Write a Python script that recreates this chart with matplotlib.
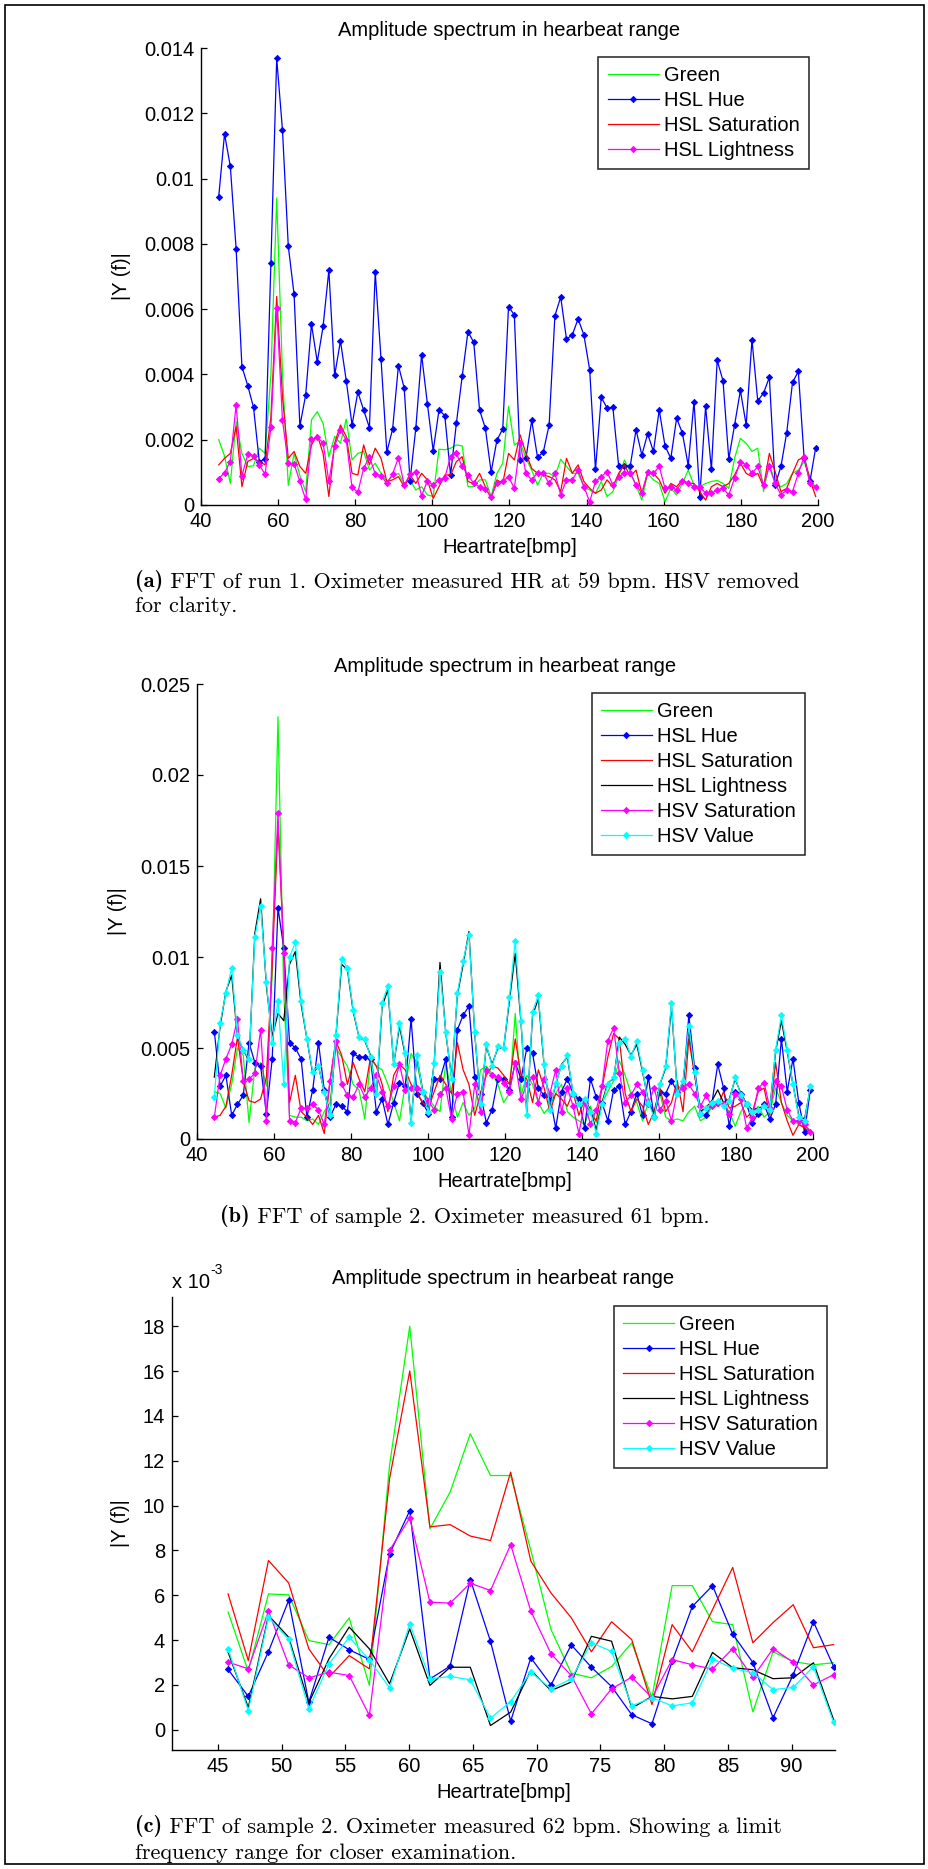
import matplotlib
matplotlib.use('Agg')
import matplotlib.pyplot as plt
import numpy as np
from matplotlib.patches import Rectangle

plt.rcParams['font.family'] = ['Liberation Sans', 'DejaVu Sans']

# FFT bins in bpm (frequency resolution of each recording)
bpm_run1 = 44.6 + 1.503 * np.arange(104)
bpm_s2 = 44.5 + 1.503 * np.arange(104)
bpm_zoom = 45.8 + 1.583 * np.arange(31)

labels_a = ['Green', 'HSL Hue', 'HSL Saturation', 'HSL Lightness']
labels_bc = ['Green', 'HSL Hue', 'HSL Saturation', 'HSL Lightness',
             'HSV Saturation', 'HSV Value']

# ---- (a) run 1, values in 1e-3 ----
green_a = [2.00, 1.50, 0.66, 2.56, 1.58, 1.18, 1.20, 1.74, 1.58, 4.00,
           9.40, 4.00, 0.60, 1.58, 0.90, 0.41, 2.61, 2.86, 2.50, 1.48,
           2.10, 1.89, 2.63, 1.38, 1.58, 1.64, 1.07, 1.28, 0.97, 0.72,
           0.87, 0.97, 0.66, 0.77, 0.46, 0.56, 0.31, 0.26, 1.71, 1.69,
           1.74, 1.84, 1.81, 0.56, 0.56, 0.77, 0.77, 0.26, 0.97, 1.28,
           3.02, 1.84, 1.94, 1.43, 1.07, 0.61, 0.97, 0.97, 0.87, 1.40,
           1.18, 0.97, 0.97, 0.56, 0.46, 0.36, 0.72, 0.26, 0.41, 0.87,
           1.38, 1.02, 0.61, 0.15, 0.97, 0.77, 0.66, 0.10, 0.51, 0.31,
           0.66, 1.07, 0.61, 0.56, 0.66, 0.72, 0.75, 0.66, 0.51, 1.43,
           2.04, 1.89, 1.64, 1.74, 0.41, 1.28, 0.66, 0.56, 0.66, 0.97,
           1.07, 1.33, 0.87, 0.51]
hue_a = [9.45, 11.37, 10.37, 7.85, 4.24, 3.66, 2.99, 1.33, 1.41, 7.41,
         13.68, 11.48, 7.93, 6.45, 2.42, 3.37, 5.54, 4.38, 5.47, 7.19,
         3.97, 5.03, 3.81, 2.45, 3.46, 2.91, 2.37, 7.14, 4.47, 1.62,
         2.33, 4.27, 3.58, 0.74, 2.35, 4.60, 3.10, 1.66, 2.91, 2.74,
         0.92, 2.50, 3.94, 5.31, 4.98, 2.91, 2.35, 1.01, 1.99, 2.33,
         6.08, 5.82, 1.38, 1.43, 2.59, 1.46, 1.62, 2.45, 5.80, 6.37,
         5.08, 5.21, 5.70, 5.21, 4.14, 1.09, 3.30, 2.97, 2.99, 1.20,
         1.20, 1.20, 2.30, 1.53, 2.18, 1.64, 2.91, 1.81, 1.43, 2.66,
         2.20, 1.21, 3.17, 0.26, 3.02, 1.09, 4.43, 3.81, 1.41, 2.45,
         3.51, 2.45, 5.06, 3.19, 3.43, 3.91, 0.61, 1.18, 2.22, 3.76,
         4.09, 1.43, 0.72, 1.76]
sat_a = [1.23, 1.43, 1.58, 2.40, 0.56, 1.33, 1.43, 1.33, 1.23, 2.70,
         6.39, 3.30, 1.43, 1.64, 1.18, 0.97, 1.84, 2.15, 1.58, 0.26,
         1.89, 2.45, 2.10, 0.97, 0.92, 1.84, 1.23, 1.74, 1.43, 0.72,
         0.77, 0.87, 0.56, 0.92, 0.66, 0.97, 0.77, 0.20, 0.56, 0.92,
         0.92, 1.33, 1.48, 0.72, 0.66, 0.97, 0.56, 0.20, 0.77, 0.66,
         1.58, 1.38, 2.15, 1.58, 1.12, 0.97, 0.92, 0.87, 0.77, 0.41,
         1.43, 0.97, 1.23, 0.72, 0.51, 0.36, 0.46, 0.77, 0.56, 0.97,
         1.23, 0.87, 1.07, 0.36, 0.97, 0.97, 0.77, 0.36, 0.66, 0.56,
         0.77, 0.66, 0.66, 0.41, 0.15, 0.56, 0.66, 0.56, 0.66, 0.92,
         1.28, 0.97, 0.87, 0.97, 0.56, 1.58, 1.02, 0.41, 0.51, 0.97,
         1.38, 1.48, 0.77, 0.26]
light_a = [0.81, 0.99, 1.33, 3.07, 0.89, 1.55, 1.51, 1.23, 0.94, 2.38,
           6.05, 2.59, 1.28, 1.26, 0.72, 0.17, 2.01, 2.07, 1.91, 0.72,
           1.81, 2.30, 1.99, 0.54, 0.39, 1.12, 1.48, 0.95, 0.90, 0.66,
           0.95, 1.45, 0.61, 0.94, 1.01, 0.28, 0.74, 0.61, 0.77, 0.84,
           1.48, 1.58, 1.18, 0.92, 0.66, 0.56, 0.48, 0.26, 0.66, 0.72,
           0.87, 0.51, 1.90, 0.97, 0.77, 0.99, 0.97, 0.66, 0.97, 0.31,
           0.77, 0.77, 1.07, 0.56, 0.10, 0.72, 0.87, 1.02, 0.61, 0.87,
           0.97, 0.97, 0.61, 0.36, 1.00, 0.97, 1.18, 0.51, 0.56, 0.46,
           0.72, 0.66, 0.56, 0.56, 0.36, 0.36, 0.46, 0.51, 0.31, 0.82,
           1.33, 1.23, 0.97, 1.18, 0.61, 1.18, 0.66, 0.31, 0.46, 0.41,
           0.97, 1.48, 0.66, 0.54]

# ---- (b) sample 2, values in 1e-3 ----
green_b = [2.6, 2.5, 1.7, 3.0, 5.0, 4.6, 0.9, 3.9, 4.2, 2.9,
           9.0, 23.2, 8.0, 1.3, 1.2, 1.2, 1.0, 1.1, 0.8, 1.5,
           2.0, 5.0, 4.5, 4.0, 3.0, 2.7, 1.1, 4.4, 4.0, 3.8,
           3.0, 2.0, 1.0, 3.0, 4.7, 4.2, 2.6, 2.2, 1.8, 1.5,
           4.2, 2.5, 1.2, 2.0, 1.3, 1.7, 3.8, 4.0, 3.6, 3.0,
           2.0, 2.5, 6.9, 2.4, 3.5, 3.0, 2.0, 1.4, 1.8, 2.5,
           3.0, 1.5, 1.2, 1.0, 0.8, 1.8, 0.9, 2.0, 2.6, 3.2,
           4.3, 3.5, 2.5, 2.0, 1.0, 2.0, 1.5, 2.5, 1.2, 1.0,
           1.1, 1.0, 1.5, 1.8, 1.0, 1.2, 1.8, 2.0, 1.9, 1.5,
           0.7, 1.5, 2.0, 1.4, 1.8, 1.2, 1.5, 2.8, 2.0, 1.3,
           1.0, 0.8, 0.7, 0.5]
hue_b = [5.9, 2.9, 3.5, 1.3, 1.9, 2.4, 5.3, 4.2, 4.0, 1.4,
         4.4, 12.7, 10.5, 5.3, 5.0, 4.4, 1.2, 2.7, 5.3, 2.7,
         1.2, 1.9, 1.8, 1.5, 4.7, 4.5, 4.5, 4.4, 1.5, 2.2,
         0.8, 2.0, 3.1, 2.9, 6.6, 2.5, 2.0, 1.4, 3.3, 3.3,
         4.4, 1.2, 6.0, 6.8, 7.3, 3.4, 2.5, 0.9, 1.6, 3.3,
         3.3, 2.7, 4.2, 3.3, 5.0, 4.7, 2.8, 2.4, 2.3, 0.6,
         2.6, 3.3, 2.5, 2.2, 0.6, 3.3, 2.3, 2.0, 1.0, 2.7,
         2.9, 0.8, 1.5, 2.5, 1.3, 3.4, 1.2, 2.6, 2.5, 3.2,
         2.6, 2.8, 6.8, 3.9, 1.4, 1.3, 2.0, 4.1, 2.8, 0.7,
         2.6, 2.5, 1.9, 0.9, 1.4, 1.9, 1.1, 1.9, 5.5, 2.6,
         4.4, 2.0, 0.4, 2.7]
sat_b = [1.2, 1.3, 1.8, 3.5, 5.6, 3.2, 2.1, 2.0, 2.2, 3.4,
         9.5, 17.2, 10.5, 2.0, 3.5, 1.5, 1.2, 0.8, 1.3, 0.3,
         3.2, 5.4, 4.6, 3.0, 4.2, 3.3, 2.6, 4.5, 4.0, 3.0,
         1.5, 3.5, 4.1, 3.8, 3.0, 2.6, 2.0, 1.7, 2.6, 3.5,
         3.0, 2.5, 5.3, 3.8, 3.0, 1.3, 2.5, 3.5, 4.0, 3.9,
         3.5, 3.0, 5.5, 3.5, 3.3, 2.0, 3.8, 2.8, 1.5, 2.5,
         2.2, 1.8, 2.6, 1.3, 2.2, 1.4, 1.0, 2.8, 4.5, 5.8,
         5.5, 2.5, 1.5, 2.2, 1.8, 0.8, 1.5, 2.8, 1.5, 2.0,
         3.2, 1.5, 5.5, 3.5, 1.5, 1.8, 2.0, 1.8, 2.6, 1.7,
         1.8, 2.0, 1.2, 1.5, 2.6, 2.8, 1.3, 4.2, 2.0, 1.0,
         0.2, 0.8, 0.6, 0.4]
light_b = [3.4, 6.2, 8.1, 9.0, 5.6, 4.9, 4.3, 11.3, 13.2, 8.4,
           5.6, 6.9, 6.5, 9.6, 10.3, 7.4, 5.5, 3.6, 4.0, 2.6,
           1.4, 5.6, 9.6, 9.3, 7.0, 5.6, 5.4, 4.6, 2.4, 7.3,
           8.2, 4.1, 6.2, 4.6, 1.0, 4.5, 2.7, 1.6, 4.2, 9.7,
           5.8, 3.4, 7.9, 9.6, 11.4, 5.8, 2.0, 5.1, 4.1, 5.0,
           5.0, 7.6, 10.2, 6.4, 1.4, 6.8, 7.7, 4.0, 1.7, 3.0,
           4.1, 4.5, 2.5, 2.0, 2.2, 1.6, 0.5, 2.0, 3.1, 3.3,
           5.6, 5.2, 4.6, 5.2, 3.7, 2.1, 1.3, 3.0, 3.9, 7.3,
           2.6, 3.1, 6.0, 3.6, 1.5, 1.7, 2.1, 2.7, 2.0, 2.2,
           3.3, 2.5, 1.9, 1.6, 1.7, 1.8, 1.7, 4.8, 6.5, 4.8,
           3.0, 1.3, 1.1, 2.8]
hsvsat_b = [1.2, 3.5, 4.4, 5.2, 6.6, 3.2, 3.3, 3.6, 6.0, 1.0,
            10.5, 17.9, 10.2, 1.0, 0.9, 1.7, 1.7, 1.9, 1.6, 0.8,
            3.2, 5.4, 3.0, 2.4, 2.3, 3.0, 2.3, 2.8, 3.5, 2.6,
            1.8, 2.9, 4.1, 2.7, 2.8, 2.8, 2.6, 2.1, 1.6, 2.5,
            2.8, 1.1, 2.5, 2.6, 0.2, 3.0, 1.5, 3.8, 3.5, 3.4,
            3.1, 2.6, 4.2, 2.2, 3.0, 3.4, 2.0, 3.3, 2.5, 3.8,
            1.5, 2.8, 1.8, 0.3, 2.0, 0.8, 1.6, 2.9, 5.4, 6.1,
            3.6, 2.0, 2.4, 3.0, 2.6, 1.9, 2.8, 1.6, 2.1, 1.0,
            2.6, 2.8, 3.0, 2.5, 1.8, 2.4, 1.8, 2.0, 1.9, 1.4,
            2.5, 2.2, 0.6, 1.2, 2.8, 3.1, 1.7, 3.2, 2.9, 1.6,
            1.0, 1.0, 0.8, 0.4]
hsvval_b = [2.3, 6.4, 8.0, 9.4, 5.7, 4.9, 4.4, 11.1, 12.8, 8.6,
            5.3, 7.6, 3.0, 10.0, 10.8, 7.6, 5.5, 3.7, 4.0, 2.6,
            1.3, 5.7, 9.9, 9.4, 7.1, 5.6, 5.5, 4.5, 2.5, 7.5,
            8.4, 4.1, 6.4, 4.7, 0.9, 4.6, 2.6, 1.5, 4.2, 9.2,
            5.9, 3.3, 8.0, 9.8, 11.2, 5.9, 1.9, 5.2, 4.0, 5.1,
            5.0, 7.8, 10.9, 6.5, 1.3, 7.0, 7.9, 4.1, 1.6, 3.1,
            4.0, 4.6, 2.5, 1.9, 2.2, 1.5, 0.3, 1.9, 3.0, 3.4,
            5.3, 5.5, 4.5, 5.4, 3.8, 2.0, 1.2, 3.0, 4.0, 7.5,
            2.5, 3.2, 6.2, 3.7, 1.4, 1.7, 2.0, 2.1, 1.8, 2.1,
            3.4, 2.4, 1.9, 1.5, 1.6, 1.8, 1.6, 4.9, 6.8, 4.9,
            3.0, 1.2, 1.0, 2.9]

# ---- (c) sample 2, limited range, values in 1e-3 ----
green_c = [5.25, 2.6, 6.06, 6.02, 3.98, 3.80, 4.99, 1.98, 11.8, 18.0,
           8.96, 10.6, 13.2, 11.34, 11.34, 8.0, 4.47, 2.53, 2.32, 2.82,
           3.88, 1.43, 6.43, 6.43, 4.82, 4.69, 0.8, 3.48, 3.04, 2.9, 2.99]
hue_c = [2.69, 1.49, 3.49, 5.77, 1.23, 4.13, 3.57, 3.14, 7.85, 9.77,
         2.27, 2.84, 6.70, 3.95, 0.39, 3.21, 2.0, 3.79, 2.79, 1.93,
         0.67, 0.27, 3.05, 5.5, 6.43, 4.27, 3.0, 0.54, 2.46, 4.82, 2.82]
sat_c = [6.06, 3.09, 7.55, 6.55, 3.61, 2.35, 3.31, 2.72, 11.2, 16.0,
         9.05, 9.15, 8.64, 8.44, 11.49, 7.52, 6.1, 5.0, 3.48, 4.82,
         4.02, 1.13, 4.69, 3.48, 5.36, 7.24, 3.88, 4.78, 5.58, 3.66, 3.8]
light_c = [3.46, 1.0, 5.1, 4.13, 1.2, 3.17, 4.58, 3.61, 2.05, 4.5,
           1.98, 2.79, 2.79, 0.19, 0.79, 2.65, 1.75, 2.13, 4.17, 3.95,
           0.97, 1.49, 1.38, 1.49, 3.45, 2.77, 2.68, 2.28, 2.32, 2.99, 0.45]
hsvsat_c = [3.02, 2.72, 5.29, 2.9, 2.32, 2.57, 2.42, 0.64, 8.0, 9.45,
            5.69, 5.65, 6.54, 6.21, 8.26, 5.29, 3.39, 2.42, 0.71, 1.83,
            2.35, 1.43, 3.13, 2.9, 2.71, 3.62, 2.34, 3.62, 3.01, 2.0, 2.46]
hsvval_c = [3.61, 0.86, 5.02, 4.03, 0.94, 2.94, 4.13, 3.12, 1.87, 4.73,
            2.27, 2.38, 2.23, 0.52, 1.26, 2.57, 1.83, 2.27, 3.88, 3.5,
            1.07, 1.43, 1.07, 1.2, 3.17, 2.74, 2.55, 1.79, 1.89, 2.82, 0.33]

yticks_a = [0, 0.002, 0.004, 0.006, 0.008, 0.01, 0.012, 0.014]
yticklabels_a = ['0', '0.002', '0.004', '0.006', '0.008', '0.01', '0.012', '0.014']
yticks_b = [0, 0.005, 0.01, 0.015, 0.02, 0.025]
yticklabels_b = ['0', '0.005', '0.01', '0.015', '0.02', '0.025']

W, H = 929, 1869
FS = 14.5
CAP_FS = 16
fig = plt.figure(figsize=(W / 100, H / 100), dpi=100)

# MATLAB-like colours; markers only on some channels
line_kw = {
    'Green': dict(color='#00ff00'),
    'HSL Hue': dict(color='#0000ff', marker='D'),
    'HSL Saturation': dict(color='#ff0000'),
    'HSL Lightness': dict(color='#000000'),
    'HSV Saturation': dict(color='#ff00ff', marker='D'),
    'HSV Value': dict(color='#00ffff', marker='D'),
}
# in run 1 the lightness channel is drawn magenta with markers
line_kw_a = dict(line_kw, **{'HSL Lightness': dict(color='#ff00ff', marker='D')})


def add_axes_px(left, top, right, bottom):
    return fig.add_axes([left / W, 1 - bottom / H, (right - left) / W, (bottom - top) / H])


def style_axes(ax):
    for s in ['top', 'right']:
        ax.spines[s].set_visible(False)
    for s in ['left', 'bottom']:
        ax.spines[s].set_linewidth(1.0)
    ax.tick_params(direction='in', length=4, width=0.9, labelsize=FS, pad=5)
    ax.set_title('Amplitude spectrum in hearbeat range', fontsize=FS, pad=9)
    ax.set_xlabel('Heartrate[bmp]', fontsize=FS, labelpad=5)
    ax.set_ylabel('|Y (f)|', fontsize=FS, labelpad=9)


def plot_series(ax, x, series, names, styles, scale):
    for vals, name in zip(series, names):
        ax.plot(x, np.array(vals) * scale, lw=0.9, ms=3.2, mew=0.6, label=name, **styles[name])


def add_legend(ax, right, top):
    leg = ax.legend(loc='upper right', bbox_to_anchor=(right, top), borderaxespad=0,
                    fontsize=FS, fancybox=False, framealpha=1, edgecolor='#222222',
                    handlelength=2.55, handletextpad=0.25, labelspacing=0.3,
                    borderpad=0.45, numpoints=1)
    leg.get_frame().set_linewidth(1.1)


def caption(x, y, tag, rest):
    # bold "(a)" followed by the roman caption text
    t = fig.text(x, y, tag, fontfamily='cmb10', fontsize=CAP_FS, ha='left', va='bottom')
    fig.add_artist(plt.Annotation(' ' + rest, xy=(1, 0), xycoords=t, fontfamily='cmr10',
                                  fontsize=CAP_FS, ha='left', va='bottom', annotation_clip=False))


# ---------------- panel (a) ----------------
ax1 = add_axes_px(201, 48, 818, 505)
plot_series(ax1, bpm_run1, [green_a, hue_a, sat_a, light_a], labels_a, line_kw_a, 1e-3)
ax1.set_xlim(40, 200)
ax1.set_ylim(0, 0.014)
ax1.set_xticks(range(40, 201, 20))
ax1.set_yticks(yticks_a)
ax1.set_yticklabels(yticklabels_a)
style_axes(ax1)
add_legend(ax1, 0.985, 0.980)

# ---------------- panel (b) ----------------
ax2 = add_axes_px(197, 684, 813, 1139)
plot_series(ax2, bpm_s2, [green_b, hue_b, sat_b, light_b, hsvsat_b, hsvval_b],
            labels_bc, line_kw, 1e-3)
ax2.set_xlim(40, 200)
ax2.set_ylim(0, 0.025)
ax2.set_xticks(range(40, 201, 20))
ax2.set_yticks(yticks_b)
ax2.set_yticklabels(yticklabels_b)
style_axes(ax2)
add_legend(ax2, 0.987, 0.980)

# ---------------- panel (c) ----------------
ax3 = add_axes_px(172, 1297, 835, 1750)
plot_series(ax3, bpm_zoom, [green_c, hue_c, sat_c, light_c, hsvsat_c, hsvval_c],
            labels_bc, line_kw, 1.0)
ax3.set_xlim(41.4, 93.4)
ax3.set_ylim(-0.9, 19.3)
ax3.set_xticks(range(45, 91, 5))
ax3.set_yticks(range(0, 19, 2))
style_axes(ax3)
add_legend(ax3, 0.988, 0.980)
ax3.text(0, 1 + 9 / 453, 'x 10', transform=ax3.transAxes, ha='left', va='baseline', fontsize=FS)
ax3.text(38 / 663, 1 + 23 / 453, '-3', transform=ax3.transAxes, ha='left', va='baseline', fontsize=10)

# ---------------- captions ----------------
caption(135 / W, 1 - 592 / H, '(a)', 'FFT of run 1. Oximeter measured HR at 59 bpm. HSV removed')
fig.text(135 / W, 1 - 616 / H, 'for clarity.', fontfamily='cmr10', fontsize=CAP_FS,
         ha='left', va='bottom')
caption(220 / W, 1 - 1227 / H, '(b)', 'FFT of sample 2. Oximeter measured 61 bpm.')
caption(135 / W, 1 - 1837 / H, '(c)', 'FFT of sample 2. Oximeter measured 62 bpm. Showing a limit')
fig.text(135 / W, 1 - 1863 / H, 'frequency range for closer examination.', fontfamily='cmr10',
         fontsize=CAP_FS, ha='left', va='bottom')

# page frame
fig.patches.append(Rectangle((5 / W, 1 - 1864 / H), 919 / W, 1859 / H, transform=fig.transFigure,
                             fill=False, lw=1.2, ec='black'))

fig.savefig('out.png', dpi=100)
